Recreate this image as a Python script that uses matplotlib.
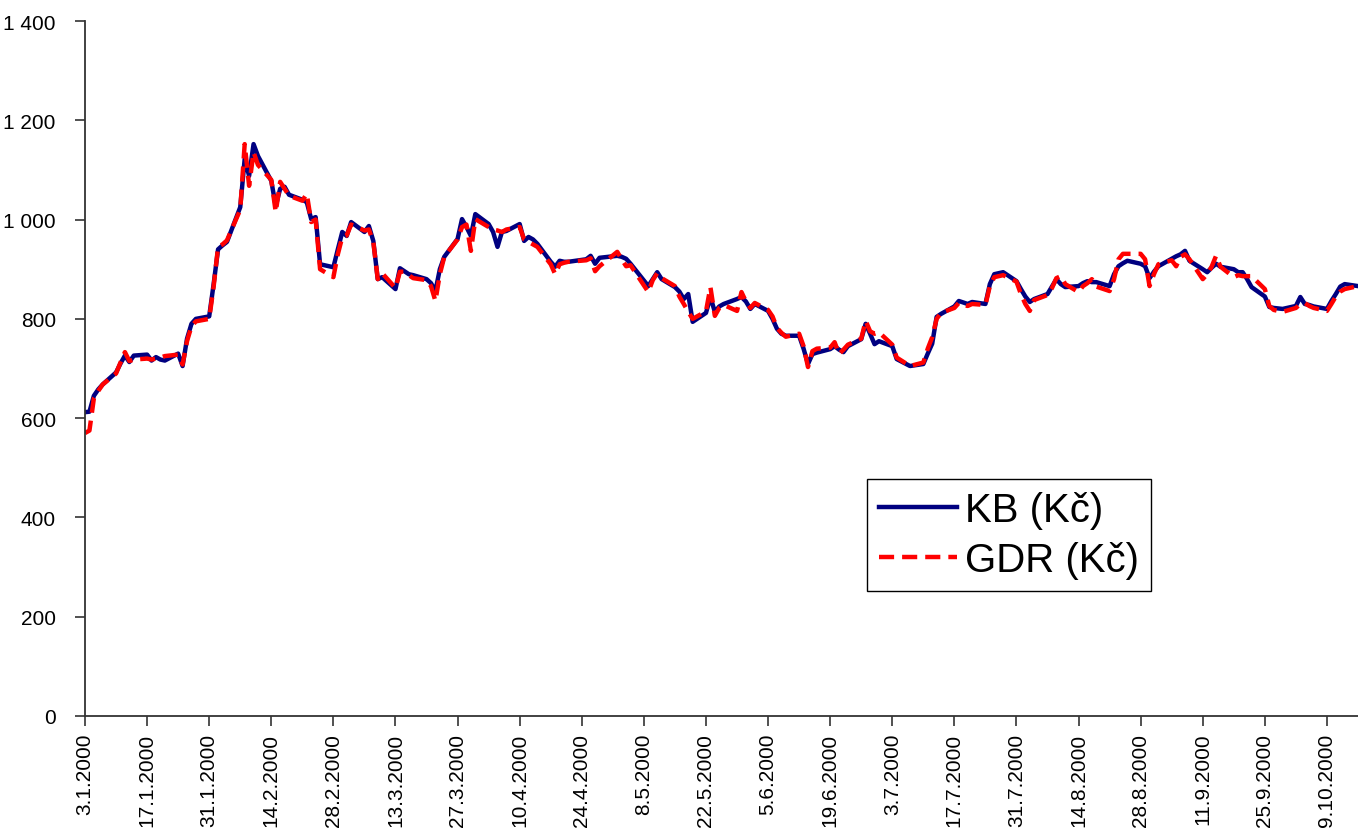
import matplotlib
matplotlib.use("Agg")
import matplotlib.pyplot as plt
import matplotlib.ticker as mticker
import pandas as pd

# Trading dates (day.month, year 2000)
dates = ["3.1", "4.1", "5.1", "6.1", "7.1", "10.1", "11.1", "12.1", "13.1", "14.1",
         "17.1", "18.1", "19.1", "20.1", "21.1", "24.1", "25.1", "26.1", "27.1", "28.1",
         "31.1", "1.2", "2.2", "3.2", "4.2", "7.2", "8.2", "9.2", "10.2", "11.2",
         "14.2", "15.2", "16.2", "17.2", "18.2", "21.2", "22.2", "23.2", "24.2", "25.2",
         "28.2", "29.2", "1.3", "2.3", "3.3", "6.3", "7.3", "8.3", "9.3", "10.3",
         "13.3", "14.3", "15.3", "16.3", "17.3", "20.3", "21.3", "22.3", "23.3", "24.3",
         "27.3", "28.3", "29.3", "30.3", "31.3", "3.4", "4.4", "5.4", "6.4", "7.4",
         "10.4", "11.4", "12.4", "13.4", "14.4", "17.4", "18.4", "19.4", "20.4", "21.4",
         "25.4", "26.4", "27.4", "28.4", "2.5", "3.5", "4.5", "5.5",
         "9.5", "10.5", "11.5", "12.5", "15.5", "16.5", "17.5", "18.5", "19.5",
         "22.5", "23.5", "24.5", "25.5", "26.5", "29.5", "30.5", "31.5", "1.6", "2.6",
         "5.6", "6.6", "7.6", "8.6", "9.6", "12.6", "13.6", "14.6", "15.6", "16.6",
         "19.6", "20.6", "21.6", "22.6", "23.6", "26.6", "27.6", "28.6", "29.6", "30.6",
         "3.7", "4.7", "7.7", "10.7", "11.7", "12.7", "13.7", "14.7",
         "17.7", "18.7", "19.7", "20.7", "21.7", "24.7", "25.7", "26.7", "27.7", "28.7",
         "31.7", "1.8", "2.8", "3.8", "4.8", "7.8", "8.8", "9.8", "10.8", "11.8",
         "14.8", "15.8", "16.8", "17.8", "18.8", "21.8", "22.8", "23.8", "24.8", "25.8",
         "28.8", "29.8", "30.8", "31.8", "1.9", "4.9", "5.9", "6.9", "7.9", "8.9",
         "11.9", "12.9", "13.9", "14.9", "15.9", "18.9", "19.9", "20.9", "21.9", "22.9",
         "25.9", "26.9", "27.9", "29.9", "2.10", "3.10", "4.10", "5.10", "6.10",
         "9.10", "10.10", "11.10", "12.10", "13.10", "16.10"]

kb = [612, 613, 645, 658, 668, 692, 710, 726, 713, 726,
      728, 716, 723, 718, 716, 730, 705, 760, 790, 800,
      805, 870, 940, 948, 955, 1025, 1122, 1088, 1152, 1128,
      1078, 1027, 1062, 1066, 1050, 1040, 1035, 1001, 1005, 910,
      904, 940, 975, 967, 995, 975, 987, 957, 880, 884,
      860, 902, 896, 890, 888, 880, 872, 856, 900, 925,
      961, 1001, 985, 967, 1011, 991, 975, 945, 975, 977,
      991, 957, 965, 960, 951, 915, 905, 917, 915, 915,
      920, 927, 911, 923, 927, 925, 921, 911,
      866, 880, 894, 880, 864, 855, 840, 850, 794,
      812, 844, 814, 825, 830, 840, 844, 835, 820, 830,
      816, 800, 780, 770, 766, 766, 740, 709, 729, 732,
      739, 745, 738, 733, 745, 759, 790, 770, 749, 755,
      745, 719, 705, 709, 730, 750, 804, 810,
      825, 836, 833, 830, 834, 830, 870, 890, 892, 894,
      876, 860, 845, 834, 840, 850, 865, 880, 870, 864,
      866, 872, 876, 874, 874, 866, 890, 906, 912, 917,
      911, 906, 882, 895, 906, 921, 926, 930, 937, 917,
      900, 894, 903, 911, 905, 900, 894, 894, 880, 864,
      845, 824, 822, 820, 826, 844, 830, 828, 825,
      820, 836, 850, 865, 870, 866]

gdr = [570, 575, 640, 655, 668, 690, 712, 733, 715, 718,
       720, 718, 720, 722, 725, 728, 708, 755, 785, 795,
       800, 865, 945, 950, 958, 1020, 1152, 1068, 1136, 1110,
       1080, 1015, 1076, 1062, 1048, 1038, 1052, 995, 1000, 900,
       884, 930, 965, 968, 990, 978, 980, 955, 880, 892,
       862, 895, 895, 888, 882, 878, 866, 836, 890, 925,
       960, 985, 990, 937, 1001, 985, 980, 978, 975, 980,
       985, 960, 955, 950, 945, 910, 890, 910, 913, 915,
       918, 922, 896, 906, 935, 920, 906, 908,
       854, 878, 892, 882, 866, 845, 830, 814, 800,
       815, 864, 806, 822, 828, 816, 854, 835, 822, 832,
       818, 805, 782, 772, 764, 770, 745, 703, 735, 740,
       742, 753, 729, 738, 748, 760, 796, 775, 770, 773,
       748, 722, 705, 712, 740, 763, 800, 812,
       822, 832, 828, 826, 830, 828, 866, 884, 886, 888,
       875, 850, 830, 816, 838, 848, 862, 882, 886, 870,
       854, 866, 872, 880, 865, 856, 880, 920, 931, 931,
       931, 920, 866, 890, 910, 918, 906, 925, 930, 920,
       880, 890, 905, 927, 905, 884, 888, 886, 886, 886,
       860, 826, 818, 814, 822, 830, 832, 826, 822,
       816, 830, 845, 855, 860, 866]

series_labels = ["KB (Kč)", "GDR (Kč)"]
y_ticks = [0, 200, 400, 600, 800, 1000, 1200, 1400]

x = pd.to_datetime([d + ".2000" for d in dates], format="%d.%m.%Y")

plt.rcParams['font.family'] = ['Liberation Sans', 'DejaVu Sans']

fig = plt.figure(figsize=(13.58, 8.37), dpi=100)
ax = fig.add_axes([85 / 1358, 120 / 837, 1273 / 1358, 695 / 837])

ax.plot(x, kb, color='#000080', lw=3.2, label=series_labels[0])
ax.plot(x, gdr, color='#FF0000', lw=3.2, dashes=(3.4, 1.8), label=series_labels[1])

ax.set_ylim(0, 1400)
ax.set_xlim(x[0], x[-1])
ax.set_yticks(y_ticks)
ax.yaxis.set_major_formatter(mticker.FuncFormatter(
    lambda v, p: f"{int(v):,}".replace(",", " ")))

tick_dates = pd.date_range("2000-01-03", "2000-10-09", freq="14D")
ax.set_xticks(tick_dates)
ax.set_xticklabels([f"{d.day}.{d.month}.{d.year}" for d in tick_dates],
                   rotation=90, va='top', ha='center')

for s in ['top', 'right']:
    ax.spines[s].set_visible(False)
for s in ['left', 'bottom']:
    ax.spines[s].set_color('#333333')
    ax.spines[s].set_linewidth(1.3)
ax.tick_params(axis='both', direction='out', length=7, width=1.2, colors='#333333',
               labelsize=15, labelcolor='black')
ax.tick_params(axis='x', pad=5)
ax.tick_params(axis='y', pad=14)

leg = ax.legend(loc='lower left', bbox_to_anchor=(0.614, 0.180), borderaxespad=0,
                fontsize=29, frameon=True, fancybox=False, framealpha=1,
                edgecolor='black', handlelength=1.95, handletextpad=0.2,
                borderpad=0.3, labelspacing=0.3)
leg.get_frame().set_linewidth(1.0)

fig.savefig("out.png", dpi=100)
